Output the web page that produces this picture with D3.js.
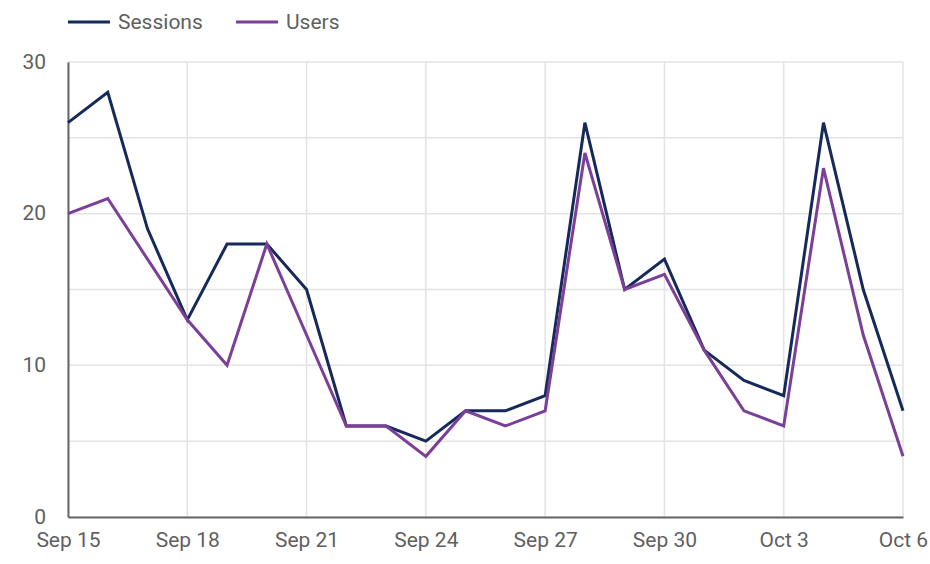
<!DOCTYPE html>
<html>
<head>
<meta charset="utf-8">
<script src="https://cdn.jsdelivr.net/npm/d3@7"></script>
<style>
  body { margin: 0; background: #fff; }
  text { font-family: Roboto, "Noto Sans", sans-serif; }
</style>
</head>
<body>
<svg id="chart" width="930" height="564"></svg>
<script>
// data
var days = ['2023-09-15', '2023-09-16', '2023-09-17', '2023-09-18', '2023-09-19', '2023-09-20',
    '2023-09-21', '2023-09-22', '2023-09-23', '2023-09-24', '2023-09-25', '2023-09-26',
    '2023-09-27', '2023-09-28', '2023-09-29', '2023-09-30', '2023-10-01', '2023-10-02',
    '2023-10-03', '2023-10-04', '2023-10-05', '2023-10-06'];
var sessions = [26, 28, 19, 13, 18, 18, 15, 6, 6, 5, 7, 7, 8, 26, 15, 17, 11, 9, 8, 26, 15, 7];
var users = [20, 21, 17, 13, 10, 18, 12, 6, 6, 4, 7, 6, 7, 24, 15, 16, 11, 7, 6, 23, 12, 4];
var yTicks = [0, 10, 20, 30];
var seriesNames = ['Sessions', 'Users'];
var colors = ['#15295b', '#7b3f98'];

var parse = d3.timeParse('%Y-%m-%d'),
    dates = days.map(parse),
    margin = {top: 62, right: 27, bottom: 47, left: 68},
    svg = d3.select('#chart'),
    width = 930 - margin.left - margin.right,
    height = 564 - margin.top - margin.bottom;

var x = d3.scaleTime().domain(d3.extent(dates)).range([0, width]),
    y = d3.scaleLinear().domain([0, 30]).range([height, 0]);

var g = svg.append('g')
    .attr('transform', 'translate(' + margin.left + ',' + margin.top + ')');

// grid
g.append('g').selectAll('line').data(d3.range(0, 31, 5)).enter().append('line')
    .attr('x1', 0).attr('x2', width)
    .attr('y1', d => y(d)).attr('y2', d => y(d))
    .attr('stroke', '#e3e3e3').attr('stroke-width', 1.5);

var xTicks = dates.filter((d, i) => i % 3 === 0);
g.append('g').selectAll('line').data(xTicks).enter().append('line')
    .attr('x1', d => x(d)).attr('x2', d => x(d))
    .attr('y1', 0).attr('y2', height)
    .attr('stroke', '#e3e3e3').attr('stroke-width', 1.5);

// axes
var xAxis = g.append('g')
    .attr('transform', 'translate(0,' + height + ')')
    .call(d3.axisBottom(x).tickValues(xTicks).tickSize(0).tickPadding(15)
        .tickFormat(d => d3.timeFormat('%b %-d')(d)));
var yAxis = g.append('g')
    .call(d3.axisLeft(y).tickValues(yTicks).tickSize(0).tickPadding(22));

[xAxis, yAxis].forEach(a => {
    a.select('.domain').attr('stroke', '#666').attr('stroke-width', 2);
    a.selectAll('text').attr('fill', '#5f5f5f').style('font-size', '21px');
});
yAxis.selectAll('text').attr('dy', '0.3em');

// lines
var line = d3.line().x((d, i) => x(dates[i])).y(d => y(d));
[sessions, users].forEach((s, k) => {
    g.append('path')
        .datum(s)
        .attr('fill', 'none')
        .attr('stroke', colors[k])
        .attr('stroke-width', 3)
        .attr('stroke-linejoin', 'miter')
        .attr('d', line);
});

// legend
var legend = svg.append('g').attr('transform', 'translate(68,22)');
var item = legend.selectAll('g').data(seriesNames).enter().append('g')
    .attr('transform', (d, i) => 'translate(' + (i * 168) + ',0)');
item.append('line')
    .attr('x1', 0).attr('x2', 42)
    .attr('stroke', (d, i) => colors[i]).attr('stroke-width', 3);
item.append('text')
    .attr('x', 50).attr('dy', '0.35em')
    .attr('fill', '#5f5f5f').style('font-size', '21px')
    .text(d => d);
</script>
</body>
</html>
